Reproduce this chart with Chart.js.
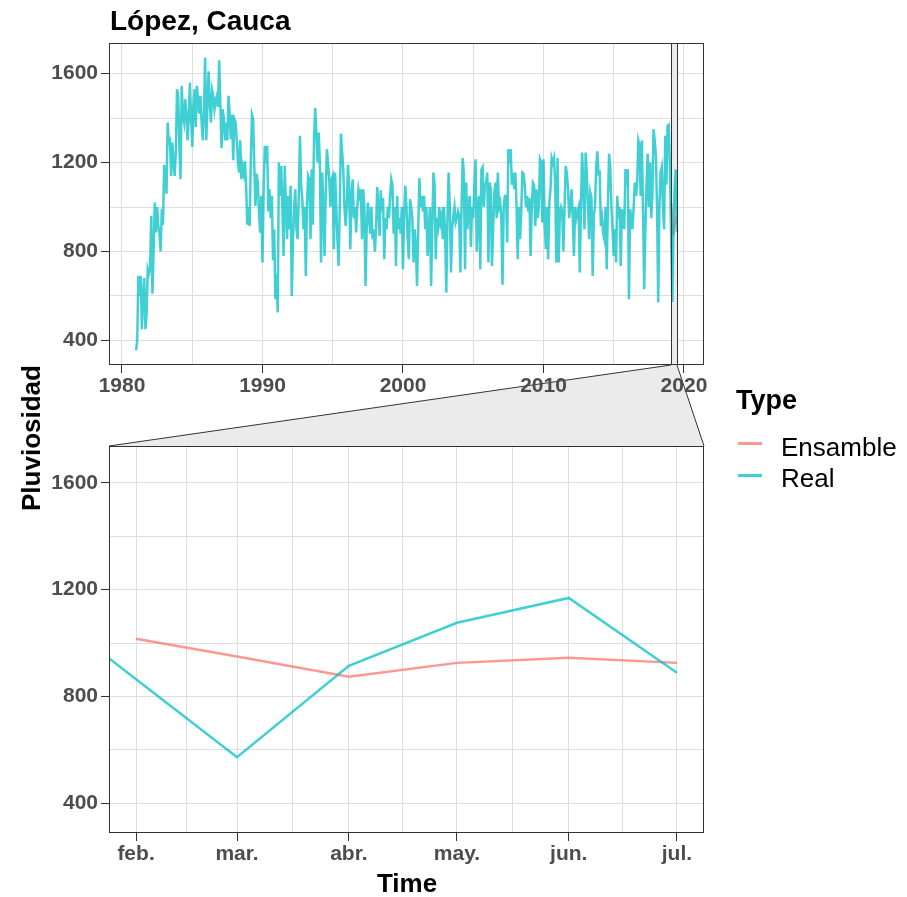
<!DOCTYPE html>
<html>
<head>
<meta charset="utf-8">
<script src="https://cdn.jsdelivr.net/npm/chart.js@4/dist/chart.umd.min.js"></script>
<style>
  html, body { margin: 0; padding: 0; background: #fff; }
  body { width: 907px; height: 897px; position: relative; overflow: hidden;
         font-family: "Liberation Sans", Arial, sans-serif; }
  canvas { position: absolute; left: 0; }
  .t { position: absolute; white-space: nowrap; line-height: 1; color: #000; }
  #title { left: 110px; top: 7px; font-weight: bold; font-size: 28px; }
  #ytitle { left: 31px; top: 438px; font-weight: bold; font-size: 26px;
            transform: translate(-50%, -50%) rotate(-90deg); }
  #xtitle { left: 407px; top: 870px; font-weight: bold; font-size: 26px; transform: translateX(-50%); }
  #legTitle { left: 736px; top: 387px; font-weight: bold; font-size: 27px; }
  .legLab { left: 781px; font-size: 26px; }
  .legKey { position: absolute; left: 738px; width: 24px; height: 3px; }
</style>
</head>
<body>
<canvas id="bg" width="907" height="897" style="top:0"></canvas>
<canvas id="topChart" width="907" height="400" style="top:0"></canvas>
<canvas id="bottomChart" width="907" height="477" style="top:420px"></canvas>

<div class="t" id="title">López, Cauca</div>
<div class="t" id="ytitle">Pluviosidad</div>
<div class="t" id="xtitle">Time</div>
<div class="t" id="legTitle">Type</div>
<div class="legKey" style="top:442px;background:rgba(248,118,109,0.75)"></div>
<div class="t legLab" style="top:434px">Ensamble</div>
<div class="legKey" style="top:474px;background:rgba(0,191,196,0.75)"></div>
<div class="t legLab" style="top:465px">Real</div>

<script>
// ---------------- DATA ----------------
// Monthly rainfall ("Real"), starting January 1981, one row per year
const realStartYear = 1981;
const realValues = [
  355, 400, 690, 600, 690, 450, 600, 680, 450, 520, 720, 700,        // 1981
  720, 960, 610, 800, 1020, 885, 1000, 915, 880, 800, 990, 920,      // 1982
  1190, 1125, 1060, 1380, 1290, 1300, 1140, 1290, 1200, 1140, 1250, 1530, // 1983
  1500, 1275, 1125, 1545, 1410, 1380, 1485, 1420, 1300, 1400, 1560, 1400, // 1984
  1270, 1455, 1530, 1360, 1545, 1480, 1420, 1500, 1380, 1300, 1420, 1672, // 1985
  1300, 1470, 1610, 1460, 1380, 1525, 1500, 1440, 1480, 1500, 1450, 1660, // 1986
  1470, 1265, 1440, 1400, 1300, 1380, 1300, 1500, 1420, 1305, 1415, 1210, // 1987
  1395, 1380, 1305, 1205, 1155, 1300, 1125, 1180, 1150, 1205, 1100, 920,  // 1988
  1000, 915, 1200, 1415, 1395, 1180, 1005, 1150, 1110, 980, 885, 1050,    // 1989
  750, 1080, 1275, 1200, 1275, 980, 1080, 950, 1050, 760, 900, 585,       // 1990
  700, 525, 1200, 1050, 1185, 1000, 780, 1185, 1000, 855, 1050, 900,      // 1991
  1095, 600, 840, 1000, 1080, 900, 855, 1050, 1320, 1100, 1035, 900,      // 1992
  1000, 690, 1020, 1140, 1125, 855, 1170, 920, 1300, 1445, 1335, 1200,    // 1993
  1335, 1200, 750, 1155, 1000, 780, 1065, 1260, 1200, 1125, 1000, 1125,   // 1994
  1140, 810, 1155, 1000, 855, 735, 1000, 1330, 1250, 1170, 1000, 915,     // 1995
  1000, 1190, 1100, 810, 1050, 1125, 950, 1000, 885, 1000, 1080, 1050,    // 1996
  1080, 855, 1080, 1000, 645, 900, 1020, 960, 880, 1000, 855, 900,        // 1997
  800, 900, 1090, 1000, 870, 1075, 980, 1040, 765, 950, 900, 1000,        // 1998
  950, 1050, 1125, 1100, 880, 1000, 735, 1050, 900, 950, 880, 1000,       // 1999
  720, 975, 1095, 1000, 855, 765, 1035, 1000, 950, 750, 900, 820,         // 2000
  645, 900, 1130, 1000, 1050, 980, 1050, 900, 1000, 780, 880, 1000,       // 2001
  645, 900, 1155, 1100, 765, 950, 915, 1000, 930, 960, 855, 1000,         // 2002
  880, 615, 950, 1155, 1000, 705, 900, 960, 1000, 930, 950, 980,          // 2003
  960, 705, 1000, 1220, 1150, 720, 1110, 900, 1000, 1050, 820, 1000,      // 2004
  950, 1100, 1215, 800, 1000, 1050, 720, 1170, 1180, 1000, 1100, 1110,    // 2005
  1155, 750, 1110, 1080, 735, 900, 1065, 1110, 950, 1155, 1000, 1020,     // 2006
  950, 650, 1000, 1050, 1050, 840, 1260, 1200, 1260, 1100, 1155, 1080,    // 2007
  1155, 1000, 765, 1000, 855, 980, 1155, 1150, 1100, 1000, 1050, 980,     // 2008
  1040, 780, 1000, 1110, 1100, 915, 1080, 950, 1000, 1215, 1200, 930,     // 2009
  1215, 930, 810, 1000, 765, 1020, 1080, 1220, 1200, 1220, 1100, 750,     // 2010
  1220, 750, 975, 1000, 980, 800, 1000, 1185, 1150, 1080, 950, 1000,      // 2011
  1080, 960, 780, 1000, 950, 980, 1000, 705, 1000, 1245, 1100, 900,       // 2012
  1245, 1150, 1005, 855, 1065, 1040, 690, 960, 1000, 1180, 1250, 1150,    // 2013
  1155, 915, 950, 880, 855, 1000, 720, 1000, 1240, 1180, 1000, 900,       // 2014
  780, 900, 750, 1050, 950, 1000, 735, 990, 945, 900, 1170, 1100,         // 2015
  1170, 585, 990, 950, 900, 1000, 1110, 1050, 1100, 1300, 1280, 1050,     // 2016
  1300, 1000, 630, 900, 1095, 1240, 1000, 1200, 950, 1050, 1350, 1300,    // 2017
  1230, 1000, 570, 1000, 1155, 1180, 1000, 900, 1320, 1100, 1365, 1370,   // 2018
  1188, 865, 573, 915, 1076, 1169, 889                                    // 2019 (Jan-Jul)
];

// Ensemble forecast
const ensambleMonths = ['2019-02', '2019-03', '2019-04', '2019-05', '2019-06', '2019-07'];
const ensambleValues = [1016, 950, 874, 926, 945, 926];

// Axis ticks / labels
const yTicks = [400, 600, 800, 1000, 1200, 1400, 1600];
const yLabelTicks = [400, 800, 1200, 1600];
const topXTicks = [1980, 1985, 1990, 1995, 2000, 2005, 2010, 2015, 2020];
const topXLabelTicks = [1980, 1990, 2000, 2010, 2020];
const zoomTickMonths = ['2019-02', '2019-03', '2019-04', '2019-05', '2019-06', '2019-07'];
const zoomTickLabels = ['feb.', 'mar.', 'abr.', 'may.', 'jun.', 'jul.'];
const zoomRange = ['2019-02', '2019-07'];

// ---------------- HELPERS ----------------
const DAY = 86400000;
function parseYM(s) { const [y, m] = s.split('-').map(Number); return {y, m}; }
function decYear(y, m) { return y + (m - 1) / 12; }
const zoomOrigin = Date.UTC(2019, 1, 1);
function dayOffset(y, m) { return (Date.UTC(y, m - 1, 1) - zoomOrigin) / DAY; }

const realYM = realValues.map((v, i) => ({y: realStartYear + Math.floor(i / 12), m: (i % 12) + 1}));
const ensYM = ensambleMonths.map(parseYM);

const realTop = realValues.map((v, i) => ({x: decYear(realYM[i].y, realYM[i].m), y: v}));
const ensTop = ensambleValues.map((v, i) => ({x: decYear(ensYM[i].y, ensYM[i].m), y: v}));
const realBottom = realValues.map((v, i) => ({x: dayOffset(realYM[i].y, realYM[i].m), y: v}));
const ensBottom = ensambleValues.map((v, i) => ({x: dayOffset(ensYM[i].y, ensYM[i].m), y: v}));

// ranges with ggplot-like 5% expansion
const allVals = realValues.concat(ensambleValues);
const vMin = Math.min(...allVals), vMax = Math.max(...allVals);
const yMin = vMin - 0.05 * (vMax - vMin), yMax = vMax + 0.05 * (vMax - vMin);
const tx0 = realTop[0].x, tx1 = realTop[realTop.length - 1].x;
const topMin = tx0 - 0.05 * (tx1 - tx0), topMax = tx1 + 0.05 * (tx1 - tx0);
const zA = parseYM(zoomRange[0]), zB = parseYM(zoomRange[1]);
const zd0 = dayOffset(zA.y, zA.m), zd1 = dayOffset(zB.y, zB.m);
const botMin = zd0 - 0.05 * (zd1 - zd0), botMax = zd1 + 0.05 * (zd1 - zd0);
const zoomTickDays = zoomTickMonths.map(s => { const p = parseYM(s); return dayOffset(p.y, p.m); });
const zoomMinorDays = [];
for (let i = 0; i < zoomTickDays.length - 1; i++) zoomMinorDays.push((zoomTickDays[i] + zoomTickDays[i + 1]) / 2);

// ---------------- STYLE ----------------
const REAL_COLOR = 'rgba(0,191,196,0.75)';
const ENS_COLOR = 'rgba(248,118,109,0.75)';
const GRID = '#DEDEDE';
const tickFont = {family: '"Liberation Sans", Arial, sans-serif', size: 21, weight: 'bold'};
const TICK_TEXT = '#4D4D4D';
const TICK_LEN = 8;

const framePlugin = {
  id: 'frame',
  beforeDatasetsDraw(chart, args, opts) {
    if (!opts.zoom) return;
    const a = chart.chartArea, ctx = chart.ctx, sx = chart.scales.x;
    const x1 = sx.getPixelForValue(decYear(zA.y, zA.m));
    const x2 = sx.getPixelForValue(decYear(zB.y, zB.m));
    ctx.save();
    ctx.fillStyle = '#EBEBEB';
    ctx.fillRect(x1, a.top, x2 - x1, a.bottom - a.top);
    ctx.restore();
  },
  afterDatasetsDraw(chart, args, opts) {
    const a = chart.chartArea, ctx = chart.ctx;
    ctx.save();
    ctx.strokeStyle = '#333333';
    ctx.lineWidth = 1;
    if (opts.zoom) {
      const sx = chart.scales.x;
      [decYear(zA.y, zA.m), decYear(zB.y, zB.m)].forEach(v => {
        const x = Math.round(sx.getPixelForValue(v)) + 0.5;
        ctx.beginPath(); ctx.moveTo(x, a.top); ctx.lineTo(x, a.bottom); ctx.stroke();
      });
    }
    ctx.strokeRect(Math.round(a.left) + 0.5, Math.round(a.top) + 0.5,
                   Math.round(a.right - a.left) - 1, Math.round(a.bottom - a.top) - 1);
    ctx.restore();
  }
};

function yAxis() {
  return {
    type: 'linear', min: yMin, max: yMax,
    afterBuildTicks: s => { s.ticks = yTicks.map(v => ({value: v})); },
    afterFit: s => { s.width = 109; },
    border: {display: false},
    grid: {color: GRID, lineWidth: 1, tickLength: TICK_LEN,
           tickColor: c => yLabelTicks.includes(c.tick && c.tick.value) ? '#333333' : 'rgba(0,0,0,0)'},
    ticks: {font: tickFont, color: TICK_TEXT, padding: 3, autoSkip: false,
            callback: v => yLabelTicks.includes(v) ? String(v) : ''}
  };
}

function lineDs(label, data, color) {
  return {label, data, borderColor: color, backgroundColor: color, borderWidth: 2.5,
          pointRadius: 0, tension: 0, fill: false};
}

const topChart = new Chart(document.getElementById('topChart'), {
  type: 'line',
  data: {datasets: [lineDs('Real', realTop, REAL_COLOR), lineDs('Ensamble', ensTop, ENS_COLOR)]},
  plugins: [framePlugin],
  options: {
    responsive: false, animation: false, events: [],
    layout: {padding: {left: 0, right: 203, top: 43, bottom: 0}},
    plugins: {legend: {display: false}, tooltip: {enabled: false}, frame: {zoom: true}},
    scales: {
      x: {
        type: 'linear', min: topMin, max: topMax,
        afterBuildTicks: s => { s.ticks = topXTicks.map(v => ({value: v})); },
        afterFit: s => { s.height = 35; },
        border: {display: false},
        grid: {color: GRID, lineWidth: 1, tickLength: TICK_LEN,
               tickColor: c => topXLabelTicks.includes(c.tick && c.tick.value) ? '#333333' : 'rgba(0,0,0,0)'},
        ticks: {font: tickFont, color: TICK_TEXT, padding: 1, autoSkip: false, maxRotation: 0,
                callback: v => topXLabelTicks.includes(v) ? String(v) : ''}
      },
      y: yAxis()
    }
  }
});

const bottomChart = new Chart(document.getElementById('bottomChart'), {
  type: 'line',
  data: {datasets: [lineDs('Real', realBottom, REAL_COLOR), lineDs('Ensamble', ensBottom, ENS_COLOR)]},
  plugins: [framePlugin],
  options: {
    responsive: false, animation: false, events: [],
    layout: {padding: {left: 0, right: 203, top: 26, bottom: 0}},
    plugins: {legend: {display: false}, tooltip: {enabled: false}, frame: {zoom: false}},
    scales: {
      x: {
        type: 'linear', min: botMin, max: botMax,
        afterBuildTicks: s => {
          s.ticks = zoomTickDays.concat(zoomMinorDays).sort((a, b) => a - b).map(v => ({value: v}));
        },
        afterFit: s => { s.height = 64; },
        border: {display: false},
        grid: {color: GRID, lineWidth: 1, tickLength: TICK_LEN,
               tickColor: c => zoomTickDays.includes(c.tick && c.tick.value) ? '#333333' : 'rgba(0,0,0,0)'},
        ticks: {font: tickFont, color: TICK_TEXT, padding: 1, autoSkip: false, maxRotation: 0,
                callback: v => { const i = zoomTickDays.indexOf(v); return i >= 0 ? zoomTickLabels[i] : ''; }}
      },
      y: yAxis()
    }
  }
});

// ---------------- zoom connector (background) ----------------
(function drawConnector() {
  const bg = document.getElementById('bg').getContext('2d');
  const sx = topChart.scales.x;
  const x1 = sx.getPixelForValue(decYear(zA.y, zA.m));
  const x2 = sx.getPixelForValue(decYear(zB.y, zB.m));
  const yT = topChart.chartArea.bottom;
  const off = 420;
  const b = bottomChart.chartArea;
  const yB = b.top + off;
  bg.fillStyle = '#EBEBEB';
  bg.beginPath();
  bg.moveTo(x1, yT); bg.lineTo(x2, yT); bg.lineTo(b.right, yB); bg.lineTo(b.left, yB); bg.closePath();
  bg.fill();
  bg.strokeStyle = '#333333';
  bg.lineWidth = 1;
  bg.beginPath(); bg.moveTo(x1, yT); bg.lineTo(b.left, yB); bg.stroke();
  bg.beginPath(); bg.moveTo(x2, yT); bg.lineTo(b.right, yB); bg.stroke();
})();
</script>
</body>
</html>
